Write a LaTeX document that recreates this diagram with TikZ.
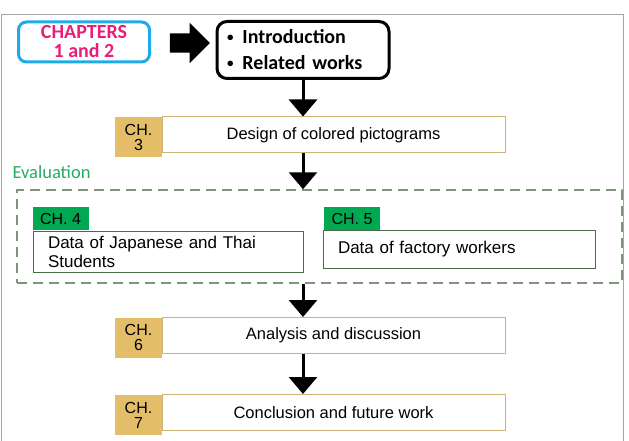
\documentclass[tikz,border=0pt]{standalone}
\usepackage{fontspec}
\setmainfont{Liberation Sans}
\newfontfamily\calfont{Carlito}
\usetikzlibrary{arrows.meta,shapes.arrows}
\definecolor{chtan}{RGB}{228,189,104}
\definecolor{chline}{RGB}{204,180,120}
\definecolor{chgreen}{RGB}{0,168,82}
\definecolor{gline}{RGB}{70,110,70}
\definecolor{evalgray}{RGB}{125,150,120}
\definecolor{evaltext}{RGB}{40,170,100}
\definecolor{chcyan}{RGB}{30,172,232}
\definecolor{chpink}{RGB}{232,30,120}
\newcommand{\smbul}{\raisebox{2pt}{\fontsize{13}{13}\selectfont\textbullet}\hspace{9pt}}
\begin{document}
\begin{tikzpicture}[x=1pt,y=-1pt,
  every node/.style={font=\fontsize{16.5}{18}\selectfont},
  lab/.style={fill=chtan,minimum width=47pt,minimum height=40pt,inner sep=0pt,
    align=center,font=\fontsize{16}{15}\selectfont},
  box/.style={draw=chline,line width=1pt,fill=white,minimum width=343pt,
    minimum height=36pt,inner sep=0pt},
  glab/.style={fill=chgreen,minimum width=56pt,minimum height=23pt,inner sep=0pt,
    font=\fontsize{16}{18}\selectfont},
  gbox/.style={draw=gline,line width=0.8pt,fill=white,inner xsep=15pt,inner ysep=0pt,
    align=left,font=\fontsize{17}{19}\selectfont},
  down/.style={-{Triangle[width=28pt,length=17pt]},line width=3pt}]
\useasboundingbox (0,0) rectangle (629,441);
\draw[gray!70,line width=1pt] (1,441) -- (1,15) -- (623,15) -- (623,441);
% top row
\node[draw=chcyan,line width=3pt,rounded corners=8pt,minimum width=131pt,
  minimum height=40pt,inner sep=0pt,text=chpink,align=center,
  font=\calfont\bfseries\fontsize{20}{19}\selectfont] (chap) at (84,42) {CHAPTERS\\1 and 2};
\node[draw,line width=3pt,rounded corners=10pt,minimum width=172pt,minimum height=57pt,
  inner sep=0pt,text width=152pt,align=left,
  font=\calfont\bfseries\fontsize{20}{22}\selectfont] (intro) at (303,50)
  {\smbul Introduction\\[4pt]\smbul Related works};
\node[single arrow,fill=black,inner sep=9.5pt,minimum width=40pt,minimum height=40pt,
  single arrow head extend=10.5pt] (big) at (185,43) {};
% chapter 3
\node[box] (ch3) at (333.5,135) {Design of colored pictograms};
\node[lab] (ch3lab) at (138.5,137) {CH.\\3};
% evaluation
\node[draw=evalgray,line width=1.5pt,dash pattern=on 10pt off 6pt,
  minimum width=605pt,minimum height=93pt] (eval) at (319.5,236.5) {};
\node[anchor=west,text=evaltext,font=\calfont\fontsize{18.5}{20}\selectfont] (evlab) at (9,172) {Evaluation};
\node[glab] (ch4lab) at (60.5,218.5) {CH. 4};
\node[gbox,text width=240pt,minimum height=41pt] (ch4) at (168,251.5)
  {Data of Japanese and Thai\\Students};
\node[gbox,text width=242pt,minimum height=38pt] (ch5) at (459,249)
  {Data of factory workers};
\node[glab] (ch5lab) at (352,218.5) {CH. 5};
% chapters 6 and 7
\node[box] (ch6) at (333.5,335.5) {Analysis and discussion};
\node[lab] (ch6lab) at (138.5,337.5) {CH.\\6};
\node[box] (ch7) at (333.5,412.5) {Conclusion and future work};
\node[lab] (ch7lab) at (138.5,415) {CH.\\7};
% arrows
\draw[down] (intro.south) -- (intro.south |- ch3.north);
\draw[down] (intro.south |- ch3.south) -- (intro.south |- eval.north);
\draw[down] (intro.south |- eval.south) -- (intro.south |- ch6.north);
\draw[down] (intro.south |- ch6.south) -- (intro.south |- ch7.north);
\end{tikzpicture}
\end{document}
